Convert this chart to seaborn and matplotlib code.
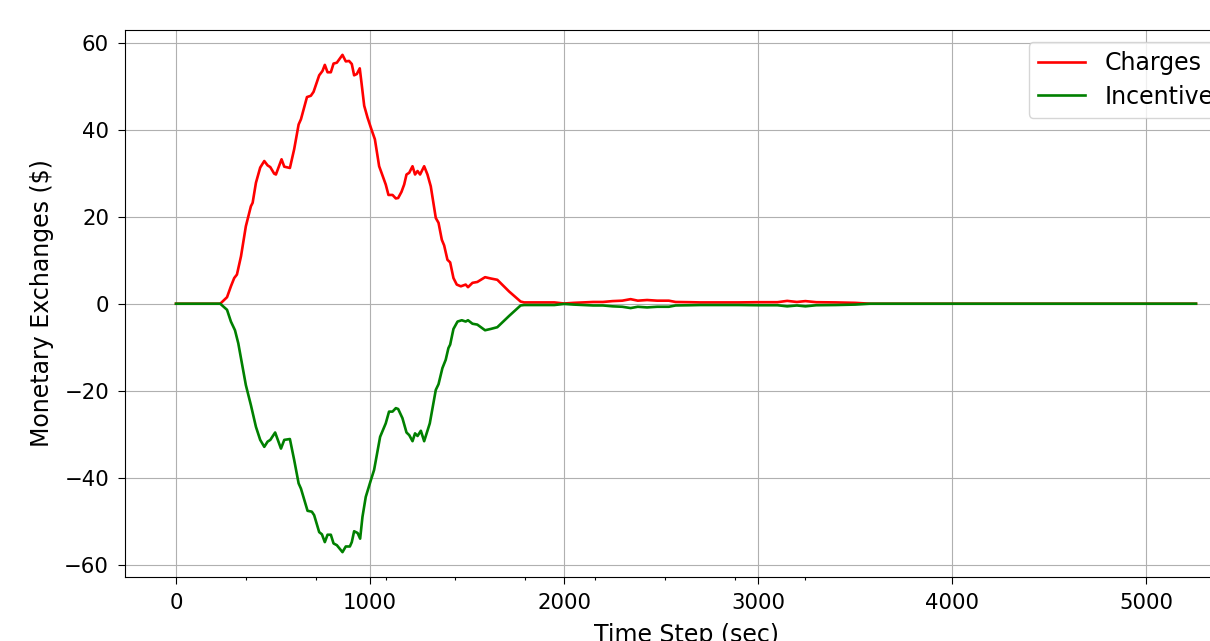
import matplotlib
matplotlib.use("Agg")
import matplotlib.pyplot as plt
import seaborn as sns
import pandas as pd

# ---- data ----
charges_time = [0, 228, 263, 283, 300, 314, 335, 360, 386, 395, 412, 434, 455, 472, 486,
                506, 515, 544, 558, 587, 609, 632, 644, 675, 695, 709, 738, 755, 767, 781,
                798, 812, 829, 858, 875, 892, 906, 918, 932, 947, 956, 970, 987, 1007, 1025,
                1047, 1056, 1081, 1095, 1116, 1133, 1145, 1162, 1176, 1188, 1202, 1219, 1232,
                1245, 1258, 1279, 1296, 1313, 1339, 1353, 1370, 1382, 1399, 1413, 1430, 1447,
                1468, 1493, 1505, 1528, 1553, 1593, 1622, 1656, 1717, 1776, 1794, 1850, 1950,
                2000, 2050, 2150, 2200, 2250, 2300, 2343, 2380, 2428, 2480, 2540, 2575, 2650,
                2700, 2800, 2900, 3000, 3100, 3150, 3200, 3244, 3300, 3400, 3500, 3579, 4000,
                5257]
charges = [0.0, 0.0, 1.5, 4.0, 5.9, 6.7, 10.9, 17.8, 22.4, 23.2, 27.8, 31.3, 32.8, 31.8, 31.4,
           29.9, 29.7, 33.2, 31.5, 31.2, 35.5, 41.2, 42.4, 47.5, 47.8, 48.7, 52.5, 53.5, 54.9, 53.2,
           53.2, 55.2, 55.4, 57.2, 55.7, 55.8, 55.1, 52.5, 52.8, 54.1, 50.8, 45.5, 42.8, 40.1, 37.8,
           31.6, 30.5, 27.4, 25.0, 25.0, 24.2, 24.3, 25.7, 27.4, 29.7, 30.1, 31.6, 29.7,
           30.5, 29.7, 31.6, 29.7, 27.0, 19.7, 18.6, 14.7, 13.4, 10.1, 9.5, 5.9, 4.4,
           4.0, 4.4, 3.8, 4.8, 5.0, 6.1, 5.8, 5.5, 2.8, 0.5, 0.3, 0.3, 0.3,
           0.05, 0.2, 0.4, 0.4, 0.6, 0.7, 1.05, 0.7, 0.85, 0.7, 0.7, 0.4, 0.35,
           0.3, 0.3, 0.3, 0.35, 0.35, 0.65, 0.4, 0.6, 0.35, 0.3, 0.2, 0.0, 0.0,
           0.0]

incentives_time = [0, 228, 263, 283, 304, 321, 360, 386, 412, 434, 455, 472, 486, 511, 541,
                   558, 587, 609, 632, 644, 678, 700, 712, 738, 752, 767, 781, 798, 812, 829,
                   858, 875, 896, 906, 918, 936, 949, 961, 978, 1004, 1021, 1052, 1081, 1098,
                   1116, 1133, 1145, 1167, 1188, 1202, 1219, 1232, 1245, 1262, 1279, 1308, 1339,
                   1353, 1373, 1390, 1404, 1413, 1430, 1451, 1473, 1493, 1505, 1528, 1553, 1593,
                   1622, 1656, 1717, 1776, 1794, 1850, 1950, 2000, 2050, 2150, 2200, 2250, 2300,
                   2343, 2380, 2428, 2480, 2540, 2575, 2650, 2700, 2800, 2900, 3000, 3100, 3150,
                   3200, 3244, 3300, 3400, 3500, 3579, 4000, 5257]
incentives = [0.0, 0.0, -1.4, -4.1, -6.1, -9.1, -18.7, -23.3, -28.3, -31.3, -32.9, -31.7, -31.3, -29.6, -33.3,
              -31.3, -31.1, -35.9, -41.3, -42.5, -47.6, -47.8, -48.6, -52.5, -53.0, -54.8, -53.1, -53.1, -55.1, -55.5,
              -57.1, -55.8, -55.8, -54.8, -52.3, -52.7, -54.0, -49.0, -44.4, -40.6, -38.2, -30.6, -27.5, -24.8,
              -24.8, -24.0, -24.2, -26.3, -29.6, -30.2, -31.6, -29.8, -30.4, -29.2, -31.6, -27.5, -19.8,
              -18.5, -14.8, -12.9, -10.2, -9.4, -5.8, -4.1, -3.8, -4.1, -3.8, -4.6, -4.8, -6.1,
              -5.8, -5.4, -2.8, -0.4, -0.3, -0.3, -0.3, -0.05, -0.2, -0.4, -0.4, -0.6, -0.7,
              -1.0, -0.7, -0.85, -0.7, -0.7, -0.4, -0.35, -0.3, -0.3, -0.3, -0.35, -0.35, -0.6,
              -0.4, -0.6, -0.35, -0.3, -0.2, 0.0, 0.0, 0.0]

series_names = ["Charges", "Incentives"]
series_colors = {"Charges": "red", "Incentives": "green"}
minor_xticks = [360, 720, 1080, 1440, 1800, 2160, 2520, 2880, 3240]

df = pd.concat([
    pd.DataFrame({"time": charges_time, "value": charges, "series": "Charges"}),
    pd.DataFrame({"time": incentives_time, "value": incentives, "series": "Incentives"}),
], ignore_index=True)

W, H = 1210, 641
fig = plt.figure(figsize=(W / 100, H / 100), dpi=100)
ax = fig.add_axes([125 / W, 64 / H, 1122 / W, 547 / H])

sns.lineplot(data=df, x="time", y="value", hue="series", hue_order=series_names,
             palette=series_colors, estimator=None, sort=True, linewidth=1.9, ax=ax)

ax.grid(True, color="#b0b0b0", linewidth=0.8)
ax.set_axisbelow(True)
ax.set_yticks([-60, -40, -20, 0, 20, 40, 60])
ax.set_xticks([0, 1000, 2000, 3000, 4000, 5000])
ax.set_xticks(minor_xticks, minor=True)
ax.tick_params(axis="both", which="major", labelsize=15.3, length=5, width=0.8, pad=6.5)
ax.tick_params(axis="x", which="minor", length=2.5, width=0.8)
ax.set_xlabel("Time Step (sec)", fontsize=17, labelpad=7.5)
ax.set_ylabel("Monetary Exchanges ($)", fontsize=17, labelpad=7.5)
for s in ax.spines.values():
    s.set_linewidth(0.8)

ax.legend(loc="upper right", fontsize=17, labelspacing=0.4)

fig.savefig("out.png", dpi=100)
